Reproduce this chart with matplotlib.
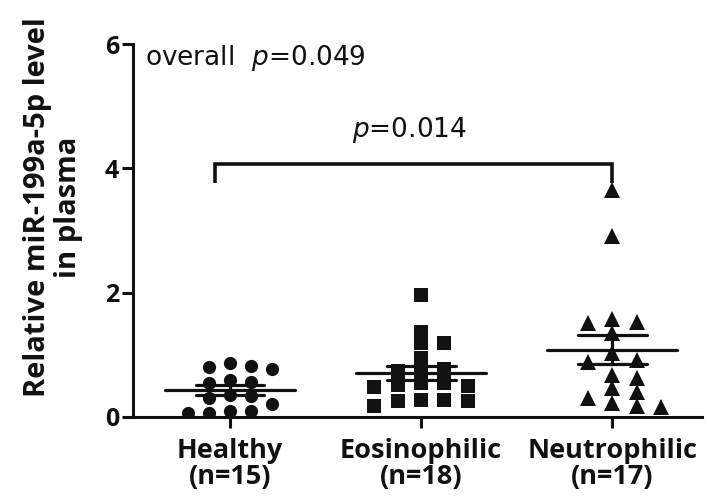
import numpy as np
import matplotlib
matplotlib.use('Agg')
import matplotlib.pyplot as plt

# ---------------- data ----------------
groups = ['Healthy', 'Eosinophilic', 'Neutrophilic']
group_n = ['(n=15)', '(n=18)', '(n=17)']
healthy = [0.77, 0.82, 0.87, 0.80, 0.56, 0.55, 0.59, 0.36, 0.33, 0.30,
           0.21, 0.09, 0.07, 0.07, 0.09]
eosinophilic = [1.96, 1.37, 1.19, 1.19, 0.95, 0.78, 0.76, 0.74,
                0.55, 0.50, 0.55, 0.48, 0.52, 0.27, 0.25, 0.17, 0.25, 0.27]
neutrophilic = [3.65, 2.91, 1.58, 1.53, 1.51, 1.35, 1.03, 0.92, 0.88,
                0.68, 0.63, 0.47, 0.40, 0.31, 0.23, 0.16, 0.18]
yticks = [0, 2, 4, 6]
overall_text = 'overall  $\\mathit{p}$=0.049'
pair_text = '$\\mathit{p}$=0.014'

series = [healthy, eosinophilic, neutrophilic]
markers = ['o', 's', '^']
msizes = [9.5, 10.5, 11.0]
ink = '#111111'

plt.rcParams['mathtext.fontset'] = 'custom'
plt.rcParams['mathtext.it'] = 'DejaVu Sans:italic'
plt.rcParams['mathtext.rm'] = 'DejaVu Sans'

W, H = 708, 499
fig = plt.figure(figsize=(W / 100, H / 100), dpi=100)
left_px, right_px, top_px, bot_px = 133, 702, 44, 417
ax = fig.add_axes([left_px / W, 1 - bot_px / H,
                   (right_px - left_px) / W, (bot_px - top_px) / H])
xlim = (-0.508, 2.47)
ylim = (0, 6)
ax.set_xlim(*xlim)
ax.set_ylim(*ylim)

xppu = (right_px - left_px) / (xlim[1] - xlim[0])
yppu = (bot_px - top_px) / (ylim[1] - ylim[0])


def swarm(vals, diam, step, vfrac):
    vals = np.asarray(vals, float)
    order = np.argsort(vals)[::-1]
    placed = []
    offs = np.zeros(len(vals))
    cands = [0.0]
    for j in range(1, 30):
        cands += [j * step, -j * step]
    for i in order:
        y = vals[i] * yppu
        for c in cands:
            if all(not (abs(c - px) < diam and abs(y - py) < diam * vfrac)
                   for px, py in placed):
                break
        placed.append((c, y))
        offs[i] = c / xppu
    return offs


for gi, (vals, mk, ms) in enumerate(zip(series, markers, msizes)):
    vals = np.asarray(vals, float)
    diam = ms * 100 / 72
    offs = swarm(vals, diam, diam * 0.8, 0.75)
    ax.plot(gi + offs, vals, linestyle='none', marker=mk, markersize=ms,
            color=ink, markeredgewidth=0, zorder=3)
    mean = vals.mean()
    sem = vals.std(ddof=1) / np.sqrt(len(vals))
    ax.plot([gi - 0.34, gi + 0.34], [mean, mean], color=ink, lw=2.3,
            solid_capstyle='round', zorder=4)
    ax.plot([gi - 0.18, gi + 0.18], [mean + sem, mean + sem], color=ink,
            lw=2.3, solid_capstyle='round', zorder=4)
    ax.plot([gi - 0.18, gi + 0.18], [mean - sem, mean - sem], color=ink,
            lw=2.3, solid_capstyle='round', zorder=4)
    ax.plot([gi, gi], [mean - sem, mean + sem], color=ink, lw=2.3, zorder=4)

# significance bracket
ax.plot([-0.08, -0.08, 2.0, 2.0], [3.76, 4.07, 4.07, 3.76], color=ink,
        lw=2.6, solid_capstyle='butt', solid_joinstyle='miter', zorder=4,
        clip_on=False)
ax.text(0.94, 4.61, pair_text, ha='center', va='center', fontsize=19,
        color=ink, family='DejaVu Sans')
ax.text(-0.445, 5.77, overall_text, ha='left', va='center', fontsize=19,
        color=ink, family='DejaVu Sans')

# axes styling
for s in ['top', 'right']:
    ax.spines[s].set_visible(False)
for s in ['left', 'bottom']:
    ax.spines[s].set_linewidth(2.2)
    ax.spines[s].set_color(ink)
ax.set_yticks(yticks)
ax.set_yticklabels([str(t) for t in yticks], fontsize=18, fontweight='bold',
                   family='Open Sans', color=ink)
ax.set_xticks(range(len(groups)))
ax.set_xticklabels([f'{g}\n{n}' for g, n in zip(groups, group_n)],
                   fontsize=19.5, fontweight='bold', family='Open Sans',
                   color=ink, linespacing=1.02)
ax.tick_params(axis='both', width=2.2, length=8, color=ink)
ax.tick_params(axis='y', pad=2)
ax.tick_params(axis='x', pad=7)

fig.text(53 / W, 1 - 207 / H, 'Relative miR-199a-5p level\nin plasma',
         rotation=90, ha='center', va='center', fontsize=21,
         fontweight='bold', family='Open Sans', color=ink, linespacing=1.1)

fig.savefig('out.png', dpi=100, facecolor='white')
